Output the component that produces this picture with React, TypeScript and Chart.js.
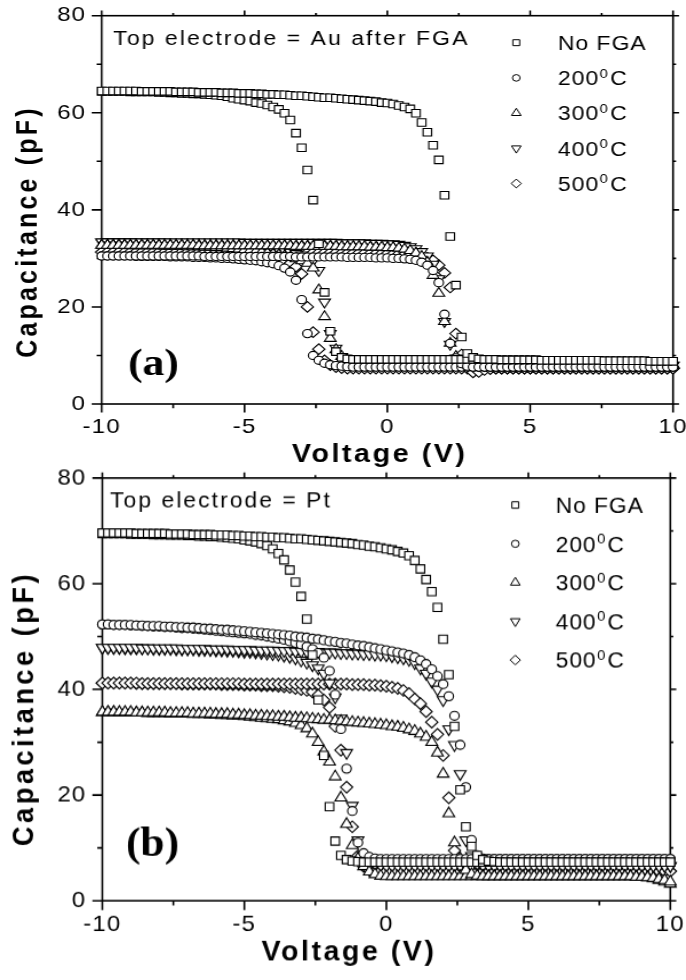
import React, { useEffect, useRef } from 'react';
import { Chart, registerables } from 'chart.js';
import { drawPoint } from 'chart.js/helpers';

Chart.register(...registerables);

const SANS = "'Liberation Sans', Arial, Helvetica, sans-serif";
const SERIF = "'Liberation Serif', 'Times New Roman', serif";

// ---------------- data ----------------
const voltage = [
  -10, -9.8, -9.6, -9.4, -9.2, -9, -8.8, -8.6, -8.4, -8.2,
  -8, -7.8, -7.6, -7.4, -7.2, -7, -6.8, -6.6, -6.4, -6.2,
  -6, -5.8, -5.6, -5.4, -5.2, -5, -4.8, -4.6, -4.4, -4.2,
  -4, -3.8, -3.6, -3.4, -3.2, -3, -2.8, -2.6, -2.4, -2.2,
  -2, -1.8, -1.6, -1.4, -1.2, -1, -0.8, -0.6, -0.4, -0.2,
  0, 0.2, 0.4, 0.6, 0.8, 1, 1.2, 1.4, 1.6, 1.8,
  2, 2.2, 2.4, 2.6, 2.8, 3, 3.2, 3.4, 3.6, 3.8,
  4, 4.2, 4.4, 4.6, 4.8, 5, 5.2, 5.4, 5.6, 5.8,
  6, 6.2, 6.4, 6.6, 6.8, 7, 7.2, 7.4, 7.6, 7.8,
  8, 8.2, 8.4, 8.6, 8.8, 9, 9.2, 9.4, 9.6, 9.8,
  10,
];

// (a) Top electrode = Au after FGA ; "A" sweep drops at negative bias, "B" sweep at positive bias
const auNoFgaA = [
  64.4,64.4,64.4,64.4,64.4,64.3,64.3,64.3,64.3,64.3,
  64.2,64.2,64.1,64.1,64.0,64.0,63.9,63.9,63.8,63.7,
  63.6,63.5,63.3,63.0,62.8,62.6,62.4,62.1,61.9,61.6,
  61.2,60.7,59.9,58.5,55.8,52.8,48.2,42.0,33.0,23.0,
  15.0,10.8,9.6,9.3,9.2,9.2,9.2,9.2,9.2,9.2,
  9.2,9.2,9.2,9.2,9.2,9.2,9.2,9.2,9.2,9.2,
  9.2,9.2,9.2,9.2,9.2,9.2,9.2,9.2,9.2,9.1,
  9.1,9.1,9.1,9.1,9.1,9.1,9.1,9.0,9.0,9.0,
  9.0,9.0,9.0,9.0,9.0,9.0,9.0,9.0,8.9,8.9,
  8.9,8.9,8.9,8.9,8.9,8.9,8.8,8.8,8.8,8.8,
  8.8,
];
const auNoFgaB = [
  64.5,64.5,64.5,64.5,64.5,64.5,64.5,64.4,64.4,64.4,
  64.4,64.4,64.4,64.3,64.3,64.3,64.3,64.2,64.2,64.2,
  64.2,64.1,64.1,64.1,64.0,64.0,64.0,63.9,63.9,63.8,
  63.8,63.7,63.7,63.6,63.5,63.5,63.4,63.3,63.2,63.1,
  63.1,63.0,62.9,62.8,62.7,62.6,62.5,62.4,62.3,62.1,
  62.0,61.8,61.5,61.2,60.8,59.9,58.0,56.0,53.3,50.3,
  43.0,34.5,24.5,13.8,10.4,9.6,9.3,9.2,9.2,9.2,
  9.1,9.1,9.1,9.1,9.1,9.1,9.1,9.0,9.0,9.0,
  9.0,9.0,9.0,9.0,9.0,9.0,9.0,9.0,8.9,8.9,
  8.9,8.9,8.9,8.9,8.9,8.9,8.8,8.8,8.8,8.8,
  8.8,
];
const au200A = [
  30.5,30.5,30.5,30.5,30.5,30.5,30.4,30.4,30.4,30.4,
  30.4,30.4,30.3,30.3,30.3,30.3,30.2,30.2,30.2,30.1,
  30.1,30.0,30.0,29.9,29.8,29.7,29.6,29.5,29.3,29.1,
  28.9,28.5,28.0,27.2,25.5,21.5,14.5,10.0,9.0,8.4,
  8.1,7.9,7.8,7.7,7.6,7.6,7.6,7.6,7.6,7.6,
  7.6,7.6,7.6,7.6,7.6,7.6,7.6,7.6,7.6,7.6,
  7.6,7.6,7.6,7.6,7.6,7.6,7.6,7.6,7.6,7.6,
  7.6,7.6,7.6,7.6,7.6,7.6,7.6,7.6,7.6,7.6,
  7.6,7.6,7.6,7.6,7.6,7.6,7.6,7.6,7.6,7.6,
  7.6,7.6,7.6,7.6,7.6,7.6,7.6,7.6,7.6,7.6,
  7.6,
];
const au200B = [
  30.5,30.5,30.5,30.5,30.5,30.5,30.5,30.5,30.5,30.5,
  30.5,30.5,30.5,30.5,30.5,30.5,30.5,30.5,30.4,30.4,
  30.4,30.4,30.4,30.4,30.4,30.4,30.4,30.4,30.4,30.4,
  30.4,30.4,30.4,30.4,30.3,30.3,30.3,30.3,30.3,30.3,
  30.3,30.3,30.3,30.2,30.2,30.2,30.2,30.2,30.1,30.1,
  30.1,30.0,30.0,29.9,29.8,29.6,29.2,28.6,27.5,25.0,
  18.5,12.5,9.5,8.3,7.8,7.6,7.6,7.6,7.6,7.6,
  7.6,7.6,7.6,7.6,7.6,7.6,7.6,7.6,7.6,7.6,
  7.6,7.6,7.6,7.6,7.6,7.6,7.6,7.6,7.6,7.6,
  7.6,7.6,7.6,7.6,7.6,7.6,7.6,7.6,7.6,7.6,
  7.6,
];
const au300A = [
  32.7,32.7,32.7,32.7,32.7,32.6,32.6,32.6,32.6,32.6,
  32.6,32.5,32.5,32.5,32.5,32.4,32.4,32.4,32.3,32.3,
  32.2,32.2,32.1,32.0,31.9,31.8,31.7,31.5,31.3,31.1,
  30.9,30.7,30.5,30.2,29.9,29.5,29.0,28.0,23.5,18.0,
  13.5,11.2,9.8,9.0,8.5,8.3,8.2,8.1,8.1,8.1,
  8.1,8.1,8.1,8.1,8.1,8.1,8.1,8.1,8.1,8.1,
  8.1,8.1,8.1,8.1,8.1,8.1,8.1,8.1,8.1,8.1,
  8.1,8.1,8.1,8.1,8.1,8.1,8.1,8.1,8.1,8.1,
  8.1,8.1,8.1,8.1,8.1,8.1,8.1,8.1,8.1,8.1,
  8.1,8.1,8.1,8.1,8.1,8.1,8.1,8.1,8.1,8.1,
  8.1,
];
const au300B = [
  32.7,32.7,32.7,32.7,32.7,32.7,32.7,32.7,32.7,32.7,
  32.7,32.7,32.7,32.7,32.7,32.7,32.7,32.6,32.6,32.6,
  32.6,32.6,32.6,32.6,32.6,32.6,32.6,32.6,32.6,32.6,
  32.6,32.6,32.6,32.6,32.5,32.5,32.5,32.5,32.5,32.5,
  32.5,32.5,32.4,32.4,32.4,32.4,32.4,32.3,32.3,32.3,
  32.2,32.2,32.1,31.9,31.6,31.1,30.4,29.2,26.5,22.8,
  17.0,12.5,9.8,8.6,8.2,8.1,8.1,8.1,8.1,8.1,
  8.1,8.1,8.1,8.1,8.1,8.1,8.1,8.1,8.1,8.1,
  8.1,8.1,8.1,8.1,8.1,8.1,8.1,8.1,8.1,8.1,
  8.1,8.1,8.1,8.1,8.1,8.1,8.1,8.1,8.1,8.1,
  8.1,
];
const au400A = [
  33.4,33.4,33.4,33.4,33.4,33.4,33.3,33.3,33.3,33.3,
  33.3,33.3,33.2,33.2,33.2,33.2,33.1,33.1,33.1,33.0,
  33.0,32.9,32.9,32.8,32.7,32.6,32.5,32.4,32.3,32.2,
  32.0,31.8,31.6,31.3,31.0,30.7,30.3,29.5,27.5,21.0,
  14.5,11.5,9.8,8.8,8.3,8.1,8.0,8.0,8.0,8.0,
  8.0,8.0,8.0,8.0,8.0,8.0,8.0,8.0,8.0,8.0,
  8.0,8.0,8.0,8.0,8.0,8.0,8.0,8.0,8.0,8.0,
  8.0,8.0,8.0,8.0,8.0,8.0,8.0,8.0,8.0,8.0,
  8.0,8.0,8.0,8.0,8.0,8.0,8.0,8.0,8.0,8.0,
  8.0,8.0,8.0,8.0,8.0,8.0,8.0,8.0,8.0,8.0,
  8.0,
];
const au400B = [
  33.4,33.4,33.4,33.4,33.4,33.4,33.4,33.4,33.4,33.4,
  33.4,33.4,33.4,33.4,33.4,33.4,33.4,33.4,33.4,33.4,
  33.4,33.4,33.4,33.4,33.4,33.3,33.3,33.3,33.3,33.3,
  33.3,33.3,33.3,33.3,33.3,33.3,33.3,33.3,33.3,33.3,
  33.3,33.3,33.2,33.2,33.2,33.2,33.2,33.1,33.1,33.1,
  33.0,33.0,32.9,32.7,32.4,32.0,31.4,30.5,28.8,25.8,
  17.0,12.3,9.5,8.4,8.1,8.0,8.0,8.0,8.0,8.0,
  8.0,8.0,8.0,8.0,8.0,8.0,8.0,8.0,8.0,8.0,
  8.0,8.0,8.0,8.0,8.0,8.0,8.0,8.0,8.0,8.0,
  8.0,8.0,8.0,8.0,8.0,8.0,8.0,8.0,8.0,8.0,
  8.0,
];
const au500A = [
  31.3,31.3,31.3,31.3,31.3,31.3,31.3,31.2,31.2,31.2,
  31.2,31.2,31.2,31.1,31.1,31.1,31.1,31.0,31.0,31.0,
  30.9,30.9,30.8,30.8,30.7,30.6,30.5,30.4,30.3,30.1,
  29.9,29.7,29.4,29.0,28.3,26.8,20.0,14.8,11.3,9.0,
  8.0,7.6,7.4,7.3,7.3,7.3,7.3,7.3,7.3,7.3,
  7.3,7.3,7.3,7.3,7.3,7.3,7.3,7.3,7.3,7.3,
  7.3,7.3,7.3,7.3,7.3,7.3,7.3,7.3,7.3,7.3,
  7.3,7.3,7.3,7.3,7.3,7.3,7.3,7.3,7.3,7.3,
  7.3,7.3,7.3,7.3,7.3,7.3,7.3,7.3,7.3,7.3,
  7.3,7.3,7.3,7.3,7.3,7.3,7.3,7.3,7.3,7.3,
  7.3,
];
const au500B = [
  31.3,31.3,31.3,31.3,31.3,31.3,31.3,31.3,31.3,31.3,
  31.3,31.3,31.3,31.3,31.3,31.3,31.3,31.3,31.3,31.3,
  31.3,31.3,31.3,31.3,31.3,31.2,31.2,31.2,31.2,31.2,
  31.2,31.2,31.2,31.2,31.2,31.2,31.2,31.2,31.2,31.2,
  31.2,31.2,31.1,31.1,31.1,31.1,31.1,31.0,31.0,31.0,
  31.0,30.9,30.9,30.8,30.7,30.6,30.4,30.1,29.6,28.6,
  27.0,24.0,14.5,10.2,8.0,6.5,6.6,7.0,7.2,7.3,
  7.3,7.3,7.3,7.3,7.3,7.3,7.3,7.3,7.3,7.3,
  7.3,7.3,7.3,7.3,7.3,7.3,7.3,7.3,7.3,7.3,
  7.3,7.3,7.3,7.3,7.3,7.3,7.3,7.3,7.3,7.3,
  7.3,
];

// (b) Top electrode = Pt
const ptNoFgaA = [
  69.5,69.5,69.5,69.5,69.5,69.4,69.4,69.4,69.4,69.3,
  69.3,69.3,69.2,69.2,69.2,69.1,69.1,69.0,69.0,68.9,
  68.9,68.8,68.7,68.6,68.5,68.3,68.1,67.9,67.6,67.2,
  66.6,65.7,64.5,62.6,60.3,57.6,53.3,46.5,38.0,27.5,
  17.8,11.3,8.6,7.8,7.5,7.4,7.3,7.3,7.3,7.3,
  7.3,7.3,7.3,7.3,7.3,7.3,7.3,7.3,7.3,7.3,
  7.3,7.3,7.3,7.3,7.3,7.3,7.3,7.3,7.3,7.3,
  7.3,7.3,7.3,7.3,7.3,7.3,7.3,7.3,7.3,7.3,
  7.3,7.3,7.3,7.3,7.3,7.3,7.3,7.3,7.3,7.3,
  7.3,7.3,7.3,7.3,7.3,7.3,7.3,7.3,7.3,7.3,
  7.3,
];
const ptNoFgaB = [
  69.6,69.6,69.6,69.6,69.6,69.6,69.5,69.5,69.5,69.5,
  69.5,69.5,69.4,69.4,69.4,69.4,69.3,69.3,69.3,69.3,
  69.2,69.2,69.2,69.1,69.1,69.0,69.0,68.9,68.9,68.8,
  68.8,68.7,68.7,68.6,68.5,68.5,68.4,68.3,68.2,68.1,
  68.0,67.9,67.8,67.7,67.6,67.4,67.3,67.1,67.0,66.8,
  66.6,66.4,66.1,65.8,65.3,64.4,62.8,60.8,58.5,55.5,
  49.5,42.8,33.0,21.0,14.0,10.3,8.6,7.8,7.5,7.4,
  7.3,7.3,7.3,7.3,7.3,7.3,7.3,7.3,7.3,7.3,
  7.3,7.3,7.3,7.3,7.3,7.3,7.3,7.3,7.3,7.3,
  7.3,7.3,7.3,7.3,7.3,7.3,7.3,7.3,7.3,7.3,
  7.3,
];
const pt200A = [
  52.3,52.3,52.2,52.2,52.2,52.1,52.1,52.0,52.0,51.9,
  51.9,51.8,51.8,51.7,51.6,51.6,51.5,51.4,51.3,51.2,
  51.1,51.0,50.9,50.8,50.7,50.6,50.5,50.3,50.2,50.0,
  49.8,49.6,49.4,49.1,48.8,48.5,48.1,47.6,46.9,46.0,
  43.5,39.0,32.5,25.0,17.0,11.0,9.0,8.3,8.0,7.9,
  7.9,7.9,7.9,7.9,7.9,7.9,7.9,7.9,7.9,7.9,
  7.9,7.9,7.9,7.9,7.9,7.9,7.9,7.9,7.9,7.9,
  7.9,7.9,7.9,7.9,7.9,7.9,7.9,7.9,7.9,7.9,
  7.9,7.9,7.9,7.9,7.9,7.9,7.9,7.9,7.9,7.9,
  7.9,7.9,7.9,7.9,7.9,7.9,7.9,7.9,7.9,7.9,
  7.9,
];
const pt200B = [
  52.3,52.3,52.2,52.2,52.2,52.2,52.1,52.1,52.0,52.0,
  52.0,51.9,51.9,51.8,51.8,51.7,51.7,51.6,51.5,51.5,
  51.4,51.3,51.3,51.2,51.1,51.0,50.9,50.8,50.7,50.6,
  50.5,50.4,50.3,50.2,50.0,49.9,49.8,49.6,49.5,49.3,
  49.1,49.0,48.8,48.7,48.5,48.3,48.2,48.0,47.8,47.6,
  47.4,47.2,47.0,46.8,46.5,46.1,45.5,44.8,43.8,42.5,
  41.0,38.7,35.0,29.5,21.5,11.5,8.6,8.0,7.9,7.9,
  7.9,7.9,7.9,7.9,7.9,7.9,7.9,7.9,7.9,7.9,
  7.9,7.9,7.9,7.9,7.9,7.9,7.9,7.9,7.9,7.9,
  7.9,7.9,7.9,7.9,7.9,7.9,7.9,7.9,7.9,7.9,
  7.9,
];
const pt300A = [
  35.7,35.7,35.7,35.6,35.6,35.6,35.6,35.6,35.5,35.5,
  35.5,35.5,35.4,35.4,35.4,35.4,35.3,35.3,35.3,35.2,
  35.2,35.1,35.1,35.0,35.0,34.9,34.8,34.7,34.6,34.5,
  34.4,34.3,34.1,33.9,33.6,33.2,32.6,31.6,30.0,28.2,
  26.3,23.5,19.5,14.5,10.5,8.0,6.5,5.5,5.0,4.7,
  4.6,4.6,4.6,4.6,4.6,4.6,4.6,4.6,4.6,4.6,
  4.6,4.6,4.6,4.6,4.6,4.6,4.6,4.6,4.6,4.6,
  4.6,4.6,4.6,4.6,4.6,4.6,4.6,4.6,4.6,4.6,
  4.6,4.6,4.6,4.6,4.6,4.6,4.6,4.6,4.6,4.6,
  4.6,4.6,4.6,4.6,4.5,4.5,4.4,4.2,3.9,3.6,
  3.2,
];
const pt300B = [
  35.7,35.7,35.7,35.7,35.7,35.7,35.6,35.6,35.6,35.6,
  35.6,35.6,35.5,35.5,35.5,35.5,35.4,35.4,35.4,35.4,
  35.3,35.3,35.3,35.2,35.2,35.1,35.1,35.0,35.0,34.9,
  34.9,34.8,34.8,34.7,34.6,34.6,34.5,34.4,34.3,34.2,
  34.2,34.1,34.0,33.9,33.8,33.7,33.6,33.5,33.4,33.3,
  33.2,33.0,32.9,32.7,32.4,32.1,31.6,31.0,30.0,28.0,
  24.0,16.5,11.0,8.0,5.8,5.0,4.7,4.6,4.6,4.6,
  4.6,4.6,4.6,4.6,4.6,4.6,4.6,4.6,4.6,4.6,
  4.6,4.6,4.6,4.6,4.6,4.6,4.6,4.6,4.6,4.6,
  4.6,4.6,4.6,4.6,4.5,4.5,4.4,4.3,4.1,3.9,
  3.6,
];
const pt400A = [
  47.9,47.9,47.9,47.9,47.8,47.8,47.8,47.8,47.8,47.7,
  47.7,47.7,47.7,47.6,47.6,47.6,47.6,47.5,47.5,47.5,
  47.4,47.4,47.3,47.3,47.2,47.1,47.1,47.0,46.9,46.8,
  46.7,46.6,46.4,46.2,45.9,45.5,45.1,44.6,44.0,43.0,
  41.2,38.5,34.5,28.0,18.0,11.5,8.5,7.3,6.9,6.7,
  6.6,6.6,6.6,6.6,6.6,6.6,6.6,6.6,6.6,6.6,
  6.6,6.6,6.6,6.6,6.6,6.6,6.6,6.6,6.6,6.6,
  6.6,6.6,6.6,6.6,6.6,6.6,6.6,6.6,6.6,6.6,
  6.6,6.6,6.6,6.6,6.6,6.6,6.6,6.6,6.6,6.6,
  6.6,6.6,6.6,6.6,6.6,6.6,6.6,6.6,6.6,6.6,
  6.6,
];
const pt400B = [
  47.9,47.9,47.9,47.9,47.9,47.9,47.9,47.8,47.8,47.8,
  47.8,47.8,47.8,47.8,47.7,47.7,47.7,47.7,47.7,47.6,
  47.6,47.6,47.6,47.5,47.5,47.5,47.5,47.4,47.4,47.4,
  47.4,47.3,47.3,47.3,47.2,47.2,47.2,47.1,47.1,47.0,
  47.0,47.0,46.9,46.9,46.8,46.8,46.7,46.7,46.6,46.6,
  46.5,46.3,46.1,45.9,45.6,45.0,44.0,43.0,41.5,40.0,
  38.0,32.5,29.5,24.0,11.5,8.5,7.0,6.7,6.6,6.6,
  6.6,6.6,6.6,6.6,6.6,6.6,6.6,6.6,6.6,6.6,
  6.6,6.6,6.6,6.6,6.6,6.6,6.6,6.6,6.6,6.6,
  6.6,6.6,6.6,6.6,6.6,6.6,6.6,6.6,6.6,6.6,
  6.6,
];
const pt500A = [
  41.2,41.2,41.2,41.2,41.2,41.2,41.1,41.1,41.1,41.1,
  41.1,41.1,41.1,41.1,41.0,41.0,41.0,41.0,41.0,41.0,
  41.0,40.9,40.9,40.9,40.9,40.8,40.8,40.8,40.7,40.7,
  40.7,40.6,40.5,40.4,40.2,40.0,39.8,39.5,38.9,38.0,
  36.6,33.0,28.5,21.5,14.0,8.5,6.5,5.8,5.6,5.6,
  5.6,5.6,5.6,5.6,5.6,5.6,5.6,5.6,5.6,5.6,
  5.6,5.6,5.6,5.6,5.6,5.6,5.6,5.6,5.6,5.6,
  5.6,5.6,5.6,5.6,5.6,5.6,5.6,5.6,5.6,5.6,
  5.6,5.6,5.6,5.6,5.6,5.6,5.6,5.6,5.6,5.6,
  5.6,5.6,5.6,5.6,5.6,5.6,5.6,5.6,5.6,5.6,
  5.6,
];
const pt500B = [
  41.2,41.2,41.2,41.2,41.2,41.2,41.2,41.1,41.1,41.1,
  41.1,41.1,41.1,41.1,41.1,41.1,41.1,41.1,41.1,41.1,
  41.1,41.1,41.1,41.1,41.1,41.0,41.0,41.0,41.0,41.0,
  41.0,41.0,41.0,41.0,41.0,41.0,41.0,41.0,41.0,41.0,
  41.0,41.0,41.0,41.0,40.9,40.9,40.9,40.8,40.8,40.7,
  40.6,40.4,40.2,39.8,39.2,38.2,37.3,35.8,33.8,31.5,
  27.5,19.5,9.5,6.5,5.8,5.6,5.6,5.6,5.6,5.6,
  5.6,5.6,5.6,5.6,5.6,5.6,5.6,5.6,5.6,5.6,
  5.6,5.6,5.6,5.6,5.6,5.6,5.6,5.6,5.6,5.6,
  5.6,5.6,5.6,5.6,5.6,5.6,5.6,5.6,5.6,5.6,
  5.6,
];

const seriesNames = ['No FGA', '200⁰C', '300⁰C', '400⁰C', '500⁰C'];
const legendMain = ['No FGA', '200', '300', '400', '500'];
const legendSup = ['', '0', '0', '0', '0'];
const legendTail = ['', 'C', 'C', 'C', 'C'];

const xMajorTicks = [-10, -5, 0, 5, 10];
const xMinorTicks = [-7.5, -2.5, 2.5, 7.5];
const yMajorTicks = [0, 20, 40, 60, 80];
const yMinorTicks = [10, 30, 50, 70];

// ---------------- styling ----------------
const markerStyles = ['rect', 'circle', 'triangle', 'triangle', 'rectRot'];
const markerRotation = [0, 0, 0, 180, 0];
const markerRadius = [5.3, 4.1, 5.9, 5.9, 5.3];
const legendRadius = [4.2, 3.3, 4.8, 4.8, 4.4];

type Panel = {
  key: string;
  top: number; cssW: number; cssH: number; w: number; h: number;
  padTop: number; padRight: number; yAxisW: number; xAxisH: number;
  yTickPad: number; xTickPad: number;
  letter: string; letterX: number; letterY: number;
  note: string; noteX: number; noteY: number;
  xTitleX: number; xTitleY: number; yTitleX: number; yTitleY: number;
  legendX: number; legendTextX: number; legendY0: number; legendStep: number;
  A: number[][]; B: number[][];
};

const panels: Panel[] = [
  {
    key: 'a', top: 0, cssW: 686, cssH: 490, w: 597, h: 490,
    padTop: 15.7, padRight: 11.3, yAxisW: 88.5, xAxisH: 86,
    yTickPad: 13.5, xTickPad: 11,
    letter: '(a)', letterX: 111.4, letterY: 375,
    note: 'Top electrode = Au after FGA', noteX: 98.6, noteY: 45,
    xTitleX: 330.4, xTitleY: 462, yTitleX: 31.5, yTitleY: 231.5,
    legendX: 449.3, legendTextX: 485.6, legendY0: 42.7, legendStep: 35.2,
    A: [auNoFgaA, au200A, au300A, au400A, au500A],
    B: [auNoFgaB, au200B, au300B, au400B, au500B],
  },
  {
    key: 'b', top: 440, cssW: 686, cssH: 540, w: 600, h: 496,
    padTop: 34.9, padRight: 13.7, yAxisW: 89.5, xAxisH: 72.8,
    yTickPad: 14, xTickPad: 9,
    letter: '(b)', letterX: 110.2, letterY: 382.1,
    note: 'Top electrode = Pt', noteX: 96.2, noteY: 61.5,
    xTitleX: 305.2, xTitleY: 477.6, yTitleX: 29.1, yTitleY: 246.6,
    legendX: 450.7, legendTextX: 486, legendY0: 59.7, legendStep: 35.6,
    A: [ptNoFgaA, pt200A, pt300A, pt400A, pt500A],
    B: [ptNoFgaB, pt200B, pt300B, pt400B, pt500B],
  },
];

function buildDatasets(A: number[][], B: number[][]) {
  return A.map((a, i) => ({
    label: seriesNames[i],
    data: [
      ...a.map((c, j) => ({ x: voltage[j], y: c })),
      ...B[i].map((c, j) => ({ x: voltage[j], y: c })),
    ],
    showLine: false,
    pointStyle: markerStyles[i],
    pointRotation: markerRotation[i],
    pointRadius: markerRadius[i],
    pointHoverRadius: markerRadius[i],
    pointBackgroundColor: '#ffffff',
    pointBorderColor: '#000000',
    pointBorderWidth: 1.1,
    clip: false,
  }));
}

function makeDecor(p: Panel) {
  return {
    id: 'decor_' + p.key,
    beforeDraw(chart: any) {
      chart.ctx.letterSpacing = '1px';
    },
    beforeDatasetsDraw(chart: any) {
      const ctx = chart.ctx;
      const a = chart.chartArea;
      const xs = chart.scales.x;
      const ys = chart.scales.y;
      ctx.save();
      ctx.strokeStyle = '#000';
      ctx.lineWidth = 1.6;
      ctx.strokeRect(a.left, a.top, a.right - a.left, a.bottom - a.top);
      ctx.beginPath();
      const vTick = (v: number, len: number) => {
        const px = xs.getPixelForValue(v);
        ctx.moveTo(px, a.bottom);
        ctx.lineTo(px, a.bottom + len);
        ctx.moveTo(px, a.top);
        ctx.lineTo(px, a.top - len * 0.6);
      };
      const hTick = (v: number, len: number) => {
        const py = ys.getPixelForValue(v);
        ctx.moveTo(a.left, py);
        ctx.lineTo(a.left - len, py);
        ctx.moveTo(a.right, py);
        ctx.lineTo(a.right + len * 0.6, py);
      };
      xMajorTicks.forEach((v) => vTick(v, 8.5));
      xMinorTicks.forEach((v) => vTick(v, 4.3));
      yMajorTicks.forEach((v) => hTick(v, 8.7));
      yMinorTicks.forEach((v) => hTick(v, 4.4));
      ctx.stroke();
      ctx.restore();
    },
    afterDraw(chart: any) {
      const ctx = chart.ctx;
      ctx.save();
      ctx.fillStyle = '#000';
      ctx.textBaseline = 'alphabetic';

      // x-axis title
      ctx.font = `bold 25px ${SANS}`;
      ctx.letterSpacing = '2.2px';
      ctx.textAlign = 'center';
      ctx.fillText('Voltage (V)', p.xTitleX, p.xTitleY);

      // y-axis title
      ctx.save();
      ctx.translate(p.yTitleX, p.yTitleY);
      ctx.rotate(-Math.PI / 2);
      ctx.letterSpacing = '3.2px';
      ctx.fillText('Capacitance (pF)', 0, 0);
      ctx.restore();

      // panel letter
      ctx.font = `bold 38px ${SERIF}`;
      ctx.letterSpacing = '0px';
      ctx.textAlign = 'left';
      ctx.fillText(p.letter, p.letterX, p.letterY);

      // note
      ctx.font = `20px ${SANS}`;
      ctx.letterSpacing = '1.8px';
      ctx.fillText(p.note, p.noteX, p.noteY);

      // legend
      ctx.letterSpacing = '0.8px';
      for (let i = 0; i < legendMain.length; i++) {
        const y = p.legendY0 + i * p.legendStep;
        ctx.save();
        ctx.fillStyle = '#ffffff';
        ctx.strokeStyle = '#000000';
        ctx.lineWidth = 1;
        drawPoint(ctx, {
          pointStyle: markerStyles[i] as any,
          rotation: markerRotation[i],
          radius: legendRadius[i],
          borderWidth: 1,
        } as any, p.legendX, y);
        ctx.restore();
        ctx.fillStyle = '#000';
        ctx.font = `20px ${SANS}`;
        const base = y + 7.2;
        let x = p.legendTextX;
        ctx.fillText(legendMain[i], x, base);
        x += ctx.measureText(legendMain[i]).width;
        if (legendSup[i]) {
          ctx.font = `13px ${SANS}`;
          ctx.fillText(legendSup[i], x + 0.5, base - 7.5);
          x += ctx.measureText(legendSup[i]).width + 1.5;
          ctx.font = `20px ${SANS}`;
          ctx.fillText(legendTail[i], x, base);
        }
      }
      ctx.restore();
      ctx.letterSpacing = '0px';
    },
  };
}

function PanelChart({ p }: { p: Panel }) {
  const ref = useRef<HTMLCanvasElement>(null);
  useEffect(() => {
    const canvas = ref.current;
    if (!canvas) return;
    const tickFont = { family: SANS, size: 21, weight: 'normal' as const };
    const chart = new Chart(canvas, {
      type: 'scatter',
      data: { datasets: buildDatasets(p.A, p.B) as any },
      options: {
        responsive: false,
        maintainAspectRatio: false,
        animation: false,
        events: [],
        layout: { padding: { left: 0, top: p.padTop, right: p.padRight, bottom: 0 } },
        plugins: { legend: { display: false }, tooltip: { enabled: false }, title: { display: false } },
        scales: {
          x: {
            type: 'linear',
            min: -10,
            max: 10,
            grid: { display: false, drawTicks: false },
            border: { display: false },
            ticks: { stepSize: 5, font: tickFont, color: '#000', padding: p.xTickPad, maxRotation: 0, autoSkip: false },
            afterFit: (s: any) => { s.height = p.xAxisH; s.paddingLeft = 0; s.paddingRight = 0; },
          },
          y: {
            type: 'linear',
            min: 0,
            max: 80,
            grid: { display: false, drawTicks: false },
            border: { display: false },
            ticks: { stepSize: 20, font: tickFont, color: '#000', padding: p.yTickPad },
            afterFit: (s: any) => { s.width = p.yAxisW; s.paddingTop = 0; s.paddingBottom = 0; },
          },
        },
      } as any,
      plugins: [makeDecor(p)],
    });
    return () => chart.destroy();
  }, [p]);
  return (
    <canvas
      ref={ref}
      width={p.w}
      height={p.h}
      style={{ position: 'absolute', left: 0, top: p.top, width: p.cssW, height: p.cssH }}
    />
  );
}

export default function App() {
  return (
    <div style={{ position: 'absolute', left: 0, top: 0, width: 686, height: 980, background: '#ffffff', overflow: 'hidden' }}>
      {panels.map((p) => (
        <PanelChart key={p.key} p={p} />
      ))}
    </div>
  );
}
